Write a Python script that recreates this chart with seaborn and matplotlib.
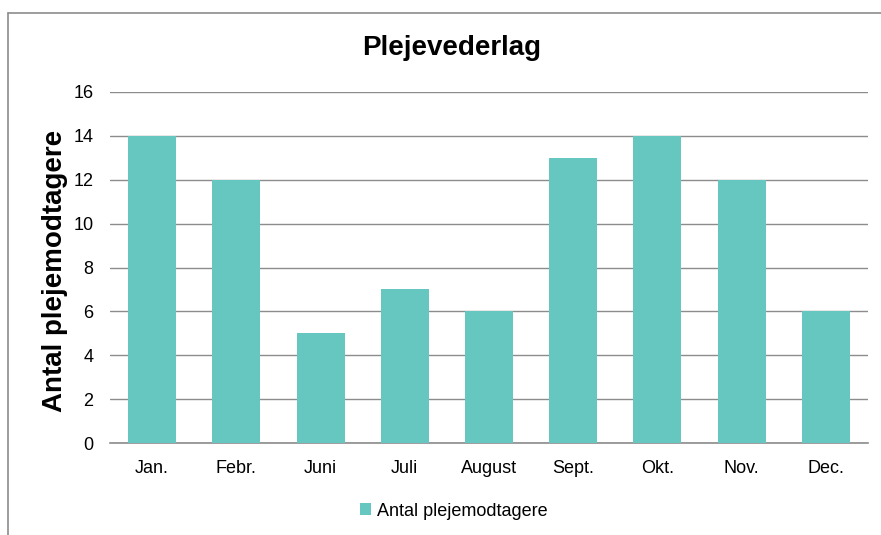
import matplotlib
matplotlib.use('Agg')
import matplotlib.pyplot as plt
import seaborn as sns
import pandas as pd
from matplotlib.lines import Line2D
from matplotlib.patches import Patch

months = ['Jan.', 'Febr.', 'Juni', 'Juli', 'August', 'Sept.', 'Okt.', 'Nov.', 'Dec.']
counts = [14, 12, 5, 7, 6, 13, 14, 12, 6]
series_name = 'Antal plejemodtagere'
bar_color = '#66C7C1'

sns.set_theme(style='white')
plt.rcParams['font.family'] = ['Liberation Sans', 'DejaVu Sans']
plt.rcParams['text.color'] = 'black'
plt.rcParams['axes.labelcolor'] = 'black'

df = pd.DataFrame({'month': months, 'count': counts})

fig = plt.figure(figsize=(8.81, 5.35), dpi=100)
ax = fig.add_axes([110 / 881, 1 - 443 / 535, 758 / 881, 351 / 535])

sns.barplot(data=df, x='month', y='count', color=bar_color, width=0.57,
            saturation=1, linewidth=0, ax=ax, zorder=3)

ax.set_ylim(0, 16)
ax.set_yticks(range(0, 17, 2))
ax.set_xlim(-0.5, len(months) - 0.5)
ax.yaxis.grid(True, color='#8c8c8c', linewidth=1)
ax.set_axisbelow(True)
for s in ['top', 'right', 'left']:
    ax.spines[s].set_visible(False)
ax.spines['bottom'].set_color('#8c8c8c')
ax.spines['bottom'].set_linewidth(1.2)
ax.tick_params(axis='both', length=0, labelsize=13, colors='black')
ax.tick_params(axis='y', pad=12)
ax.tick_params(axis='x', pad=12)
ax.set_xlabel('')
ax.set_ylabel(series_name, fontsize=20, fontweight='bold', va='center', color='black')
ax.yaxis.set_label_coords((55 - 110) / 758, (443 - 271) / 351)

fig.text(452 / 881, 1 - 48 / 535, 'Plejevederlag', ha='center', va='center',
         fontsize=20, fontweight='bold', color='black')

handle = Patch(facecolor=bar_color, edgecolor='none')
fig.legend([handle], [series_name], loc='center', bbox_to_anchor=(454 / 881, 1 - 511 / 535),
           frameon=False, fontsize=13, handlelength=0.6, handleheight=0.6, handletextpad=0.35,
           labelcolor='black')

# outer chart frame
fig.add_artist(Line2D([8 / 881, 1], [1 - 13 / 535, 1 - 13 / 535], transform=fig.transFigure,
                      color='#8c8c8c', linewidth=1.2))
fig.add_artist(Line2D([8 / 881, 8 / 881], [0, 1 - 13 / 535], transform=fig.transFigure,
                      color='#8c8c8c', linewidth=1.2))

fig.savefig('out.png', dpi=100)
